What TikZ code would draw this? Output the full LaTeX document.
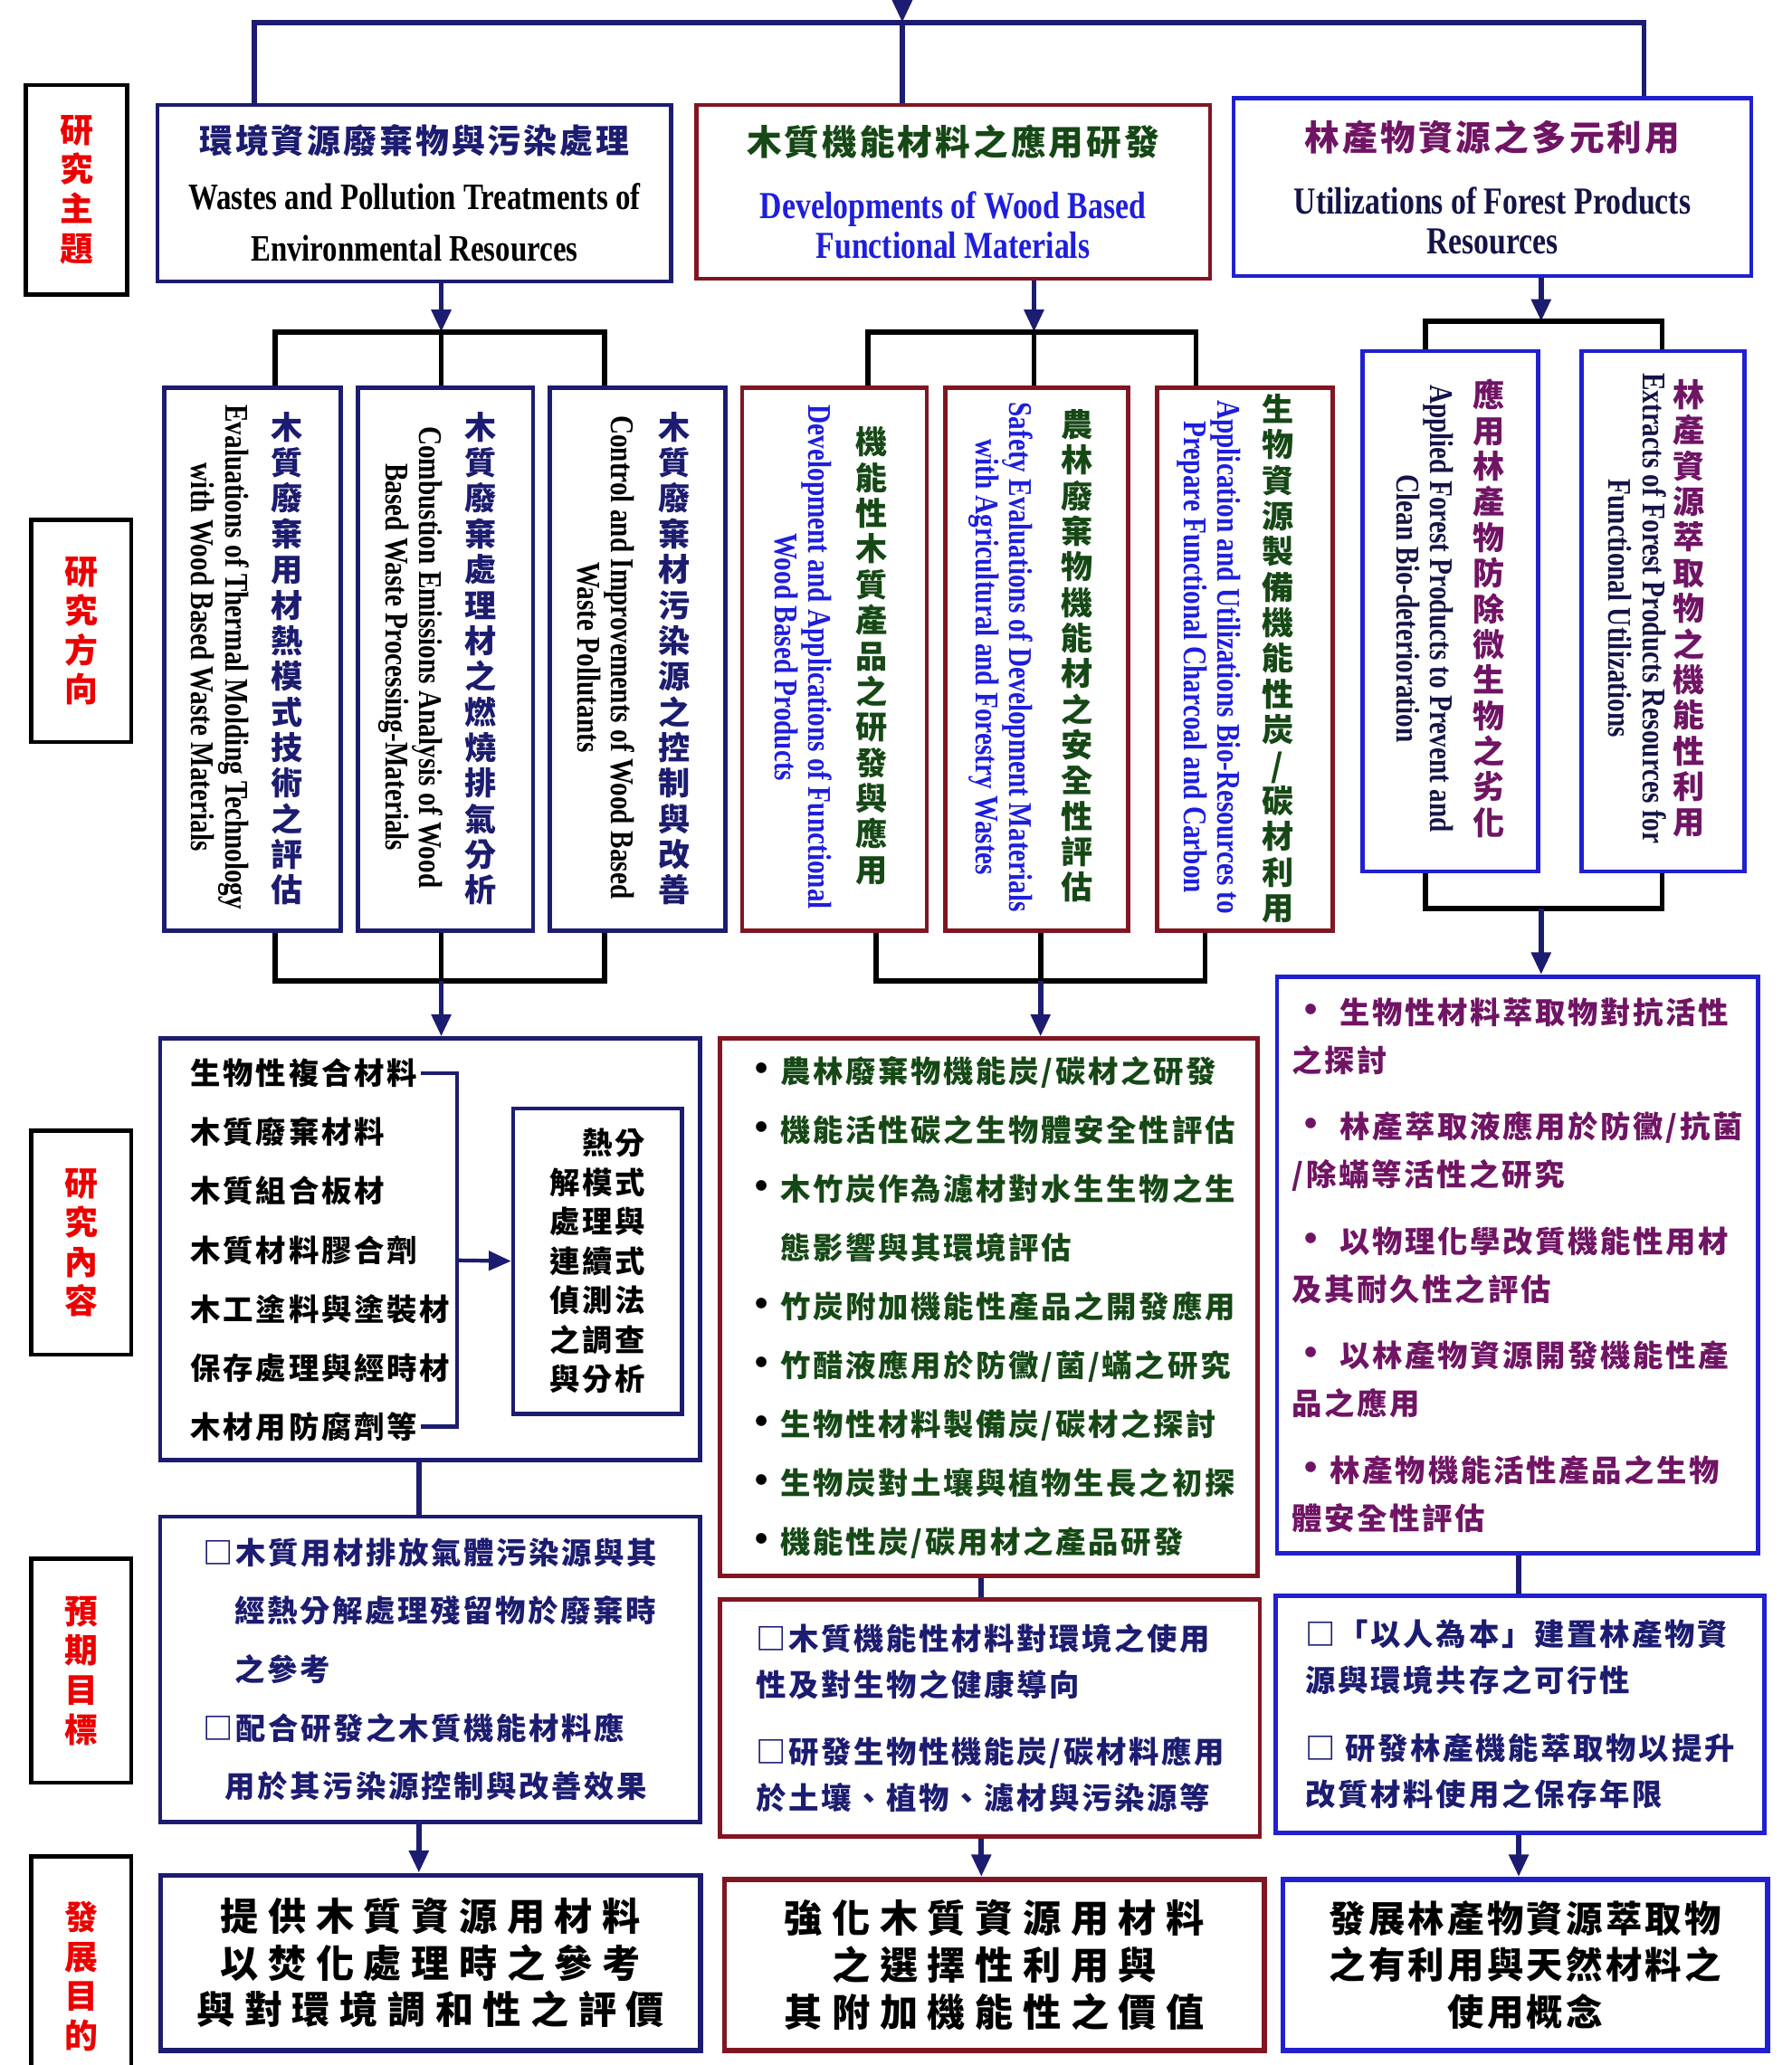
\documentclass[tikz,border=0pt]{standalone}
\usepackage{fontspec}
\setmainfont{Noto Sans CJK TC}[LetterSpace=8]
\newfontfamily\cjkw{Noto Sans CJK TC}[LetterSpace=25]
\newfontfamily\en{Liberation Serif}[FakeStretch=0.8]
\usetikzlibrary{arrows.meta}
\definecolor{navyc}{RGB}{28,28,112}
\definecolor{maroonc}{RGB}{128,22,34}
\definecolor{bluec}{RGB}{32,32,208}
\definecolor{greent}{RGB}{22,72,22}
\definecolor{bluet}{RGB}{30,30,220}
\definecolor{purplet}{RGB}{112,20,100}
\definecolor{navyt}{RGB}{20,20,72}
\definecolor{redt}{RGB}{236,0,0}
\newdimen\pu \pu=0.014559cm
\newcommand\fs[2]{\fontsize{#1}{#2}\selectfont}
\newcommand\enb{\en\bfseries}
\newcommand\bul{\makebox[12pt][l]{\color{black}\fs{12}{12}•}}
\newcommand\pbul{{\fs{12}{12}•}}
\long\def\vfirst#1#2{#1}
\long\def\vsecond#1#2{#2}
\def\vchars#1{\vchstep#1\relax}
\def\vchstep#1#2{\ifx\relax#2\expandafter\vfirst\else\expandafter\vsecond\fi{#1}{#1\\\vchstep#2}}
\begin{document}
\begin{tikzpicture}[
 x=0.014559cm, y=-0.014559cm,
 lab/.style={draw=black,line width=1.3pt,anchor=north west,inner sep=0pt,align=center,text=redt,font=\fs{10.5}{12.4}\bfseries},
 topbox/.style={line width=1.3pt,anchor=north west,inner sep=0pt,align=center},
 vbox/.style={line width=1.3pt,anchor=north west,inner sep=0pt},
 vzh/.style={align=center,inner sep=0pt,font=\fs{10}{11.2}\bfseries},
 ven/.style={align=center,inner sep=0pt,rotate=-90,font=\enb\fs{10.4}{10.6}},
 listbox/.style={line width=1.3pt,anchor=north west,inner sep=0pt,align=left},
 endbox/.style={line width=1.6pt,anchor=north west,inner sep=0pt,align=center,font=\cjkw\fs{12}{14.7}\bfseries},
 bar/.style={draw=navyc,line width=1.6pt},
 brk/.style={draw=black,line width=1.6pt},
 arr/.style={bar,-{Triangle[length=7pt,width=6pt]}}
]
\useasboundingbox (0,0) rectangle (1360,1568);
\fill[white] (0,0) rectangle (1360,1568);

\node (lab1) [lab,minimum width=77\pu,minimum height=159\pu] at (18,63) {\vchars{研究主題}};
\node (lab2) [lab,minimum width=76\pu,minimum height=169\pu] at (22,393) {\vchars{研究方向}};
\node (lab3) [lab,minimum width=76\pu,minimum height=170\pu] at (22,857) {\vchars{研究內容}};
\node (lab4) [lab,minimum width=76\pu,minimum height=170\pu] at (22,1182) {\vchars{預期目標}};
\node (lab5) [lab,minimum width=76\pu,minimum height=182\pu] at (22,1408) {\vchars{發展目的}};

\node (tL) [topbox,draw=navyc,minimum width=390\pu,minimum height=134\pu,font=\fs{11.7}{16.2}] at (118,78)
 {{\color{navyc}\fs{10.5}{13}\bfseries 環境資源廢棄物與污染處理}\\[1.6pt]{\enb Wastes and Pollution Treatments of}\\{\enb Environmental Resources}};
\node (tM) [topbox,draw=maroonc,minimum width=390\pu,minimum height=132\pu,font=\fs{12}{12.4}] at (527,78)
 {{\color{greent}\fs{11}{13}\bfseries 木質機能材料之應用研發}\\[7.6pt]{\enb\color{bluet}Developments of Wood Based}\\{\enb\color{bluet}Functional Materials}};
\node (tR) [topbox,draw=bluec,minimum width=393\pu,minimum height=135\pu,font=\fs{12}{12.4}] at (935,73)
 {{\color{purplet}\fs{11}{13}\bfseries 林產物資源之多元利用}\\[7.6pt]{\enb\color{navyt}Utilizations of Forest Products}\\{\enb\color{navyt}Resources}};

\node (L1) [vbox,draw=navyc,minimum width=134\pu,minimum height=412\pu] at (123,293) {};
\node (L2) [vbox,draw=navyc,minimum width=133\pu,minimum height=412\pu] at (270,293) {};
\node (L3) [vbox,draw=navyc,minimum width=133\pu,minimum height=412\pu] at (416,293) {};
\node (M1) [vbox,draw=maroonc,minimum width=140\pu,minimum height=412\pu] at (562,293) {};
\node (M2) [vbox,draw=maroonc,minimum width=139\pu,minimum height=412\pu] at (716,293) {};
\node (M3) [vbox,draw=maroonc,minimum width=133\pu,minimum height=412\pu] at (877,293) {};
\node (R1) [vbox,draw=bluec,minimum width=133\pu,minimum height=395\pu] at (1033,265) {};
\node (R2) [vbox,draw=bluec,minimum width=124\pu,minimum height=395\pu] at (1199,265) {};

\node (L1z) [vzh,text=navyc] at (218,500) {\vchars{木質廢棄用材熱模式技術之評估}};
\node (L1e) [ven] at (167,499) {Evaluations of Thermal Molding Technology\\with Wood Based Waste Materials};
\node (L2z) [vzh,text=navyc] at (365,500) {\vchars{木質廢棄處理材之燃燒排氣分析}};
\node (L2e) [ven] at (312,499) {Combustion Emissions Analysis of Wood\\Based Waste Processing-Materials};
\node (L3z) [vzh,text=navyc] at (512,500) {\vchars{木質廢棄材污染源之控制與改善}};
\node (L3e) [ven] at (460,499) {Control and Improvements of Wood Based\\Waste Pollutants};
\node (M1z) [vzh,text=greent] at (662,498) {\vchars{機能性木質產品之研發與應用}};
\node (M1e) [ven,text=bluet] at (610,499) {Development and Applications of Functional\\Wood Based Products};
\node (M2z) [vzh,text=greent] at (818,498) {\vchars{農林廢棄物機能材之安全性評估}};
\node (M2e) [ven,text=bluet] at (760,499) {Safety Evaluations of Development Materials\\with Agricultural and Forestry Wastes};
\node (M3z) [vzh,text=greent] at (970,500) {\vchars{生物資源製備機能性炭/碳材利用}};
\node (M3e) [ven,text=bluet] at (918,499) {Application and Utilizations Bio-Resources to\\Prepare Functional Charcoal and Carbon};
\node (R1z) [vzh,text=purplet] at (1130,462) {\vchars{應用林產物防除微生物之劣化}};
\node (R1e) [ven,text=navyt] at (1082,462) {Applied Forest Products to Prevent and\\Clean Bio-deterioration};
\node (R2z) [vzh,text=purplet] at (1282,462) {\vchars{林產資源萃取物之機能性利用}};
\node (R2e) [ven,text=navyt] at (1243,462) {Extracts of Forest Products Resources for\\Functional Utilizations};

\node (cL) [listbox,draw=navyc,minimum width=410\pu,minimum height=320\pu] at (120,787) {};
\foreach \txt [count=\i] in {生物性複合材料,木質廢棄材料,木質組合板材,木質材料膠合劑,木工塗料與塗裝材,保存處理與經時材,木材用防腐劑等}
  \node (it\i) [anchor=west,inner sep=1pt,font=\fs{9.5}{11}\bfseries] at (142,{770.3+44.7*\i}) {\txt};
\node (inner) [draw=navyc,line width=1.3pt,anchor=north west,minimum width=128\pu,minimum height=232\pu,align=right,inner sep=0pt,font=\fs{9.5}{12.4}\bfseries] at (388,840)
 {熱分\\解模式\\處理與\\連續式\\偵測法\\之調查\\與分析};

\node (cM) [listbox,draw=maroonc,text=greent,minimum width=408\pu,minimum height=408\pu,font=\fs{9.5}{18.5}\bfseries] at (545,787)
 {\bul 農林廢棄物機能炭/碳材之研發\\\bul 機能活性碳之生物體安全性評估\\\bul 木竹炭作為濾材對水生生物之生\\\hspace*{12pt}態影響與其環境評估\\\bul 竹炭附加機能性產品之開發應用\\\bul 竹醋液應用於防黴/菌/蟎之研究\\\bul 生物性材料製備炭/碳材之探討\\\bul 生物炭對土壤與植物生長之初探\\\bul 機能性炭/碳用材之產品研發};
\node (cR) [listbox,draw=bluec,text=purplet,minimum width=365\pu,minimum height=438\pu,font=\fs{9.5}{15}\bfseries] at (968,740)
 {\pbul\ 生物性材料萃取物對抗活性\\之探討\\[6pt]\pbul\ 林產萃取液應用於防黴/抗菌\\/除蟎等活性之研究\\[6pt]\pbul\ 以物理化學改質機能性用材\\及其耐久性之評估\\[6pt]\pbul\ 以林產物資源開發機能性產\\品之應用\\[6pt]\pbul 林產物機能活性產品之生物\\體安全性評估};

\node (gL) [listbox,draw=navyc,text=navyc,minimum width=410\pu,minimum height=232\pu,font=\fs{9.5}{18.4}\bfseries] at (120,1150)
 {□木質用材排放氣體污染源與其\\\hspace*{10pt}經熱分解處理殘留物於廢棄時\\\hspace*{10pt}之參考\\□配合研發之木質機能材料應\\\hspace*{7pt}用於其污染源控制與改善效果};
\node (gM) [listbox,draw=maroonc,text=navyc,minimum width=410\pu,minimum height=180\pu,font=\fs{9.5}{14.6}\bfseries] at (545,1213)
 {□木質機能性材料對環境之使用\\性及對生物之健康導向\\[6.5pt]□研發生物性機能炭/碳材料應用\\於土壤、植物、濾材與污染源等};
\node (gR) [listbox,draw=bluec,text=navyc,minimum width=371\pu,minimum height=180\pu,font=\fs{9.5}{14.6}\bfseries] at (967,1210)
 {□「以人為本」建置林產物資\\源與環境共存之可行性\\[6.5pt]□ 研發林產機能萃取物以提升\\改質材料使用之保存年限};

\node (pL) [endbox,draw=navyc,minimum width=410\pu,minimum height=133\pu] at (120,1422)
 {提供木質資源用材料\\以焚化處理時之參考\\與對環境調和性之評價};
\node (pM) [endbox,draw=maroonc,minimum width=410\pu,minimum height=130\pu] at (548,1425)
 {強化木質資源用材料\\之選擇性利用與\\其附加機能性之價值};
\node (pR) [endbox,draw=bluec,minimum width=368\pu,minimum height=130\pu,font=\fs{11.5}{14.7}\bfseries] at (972,1425)
 {發展林產物資源萃取物\\之有利用與天然材料之\\使用概念};

\coordinate (feed) at (685,-20);
\coordinate (barM) at (685,17);
\draw[arr] (feed) -- (barM);
\draw[bar] (tL.north -| 193,0) |- (barM) -| (tR.north -| 1248,0);
\draw[bar] (barM) -- (tM.north -| barM);

\coordinate (hubL) at (335,252);
\coordinate (hubM) at (785,252);
\coordinate (hubR) at (1170,244);
\draw[arr] (tL.south -| hubL) -- (hubL);
\draw[arr] (tM.south -| hubM) -- (hubM);
\draw[arr] (tR.south -| hubR) -- (hubR);
\draw[brk] (L1.north -| 209,0) |- (hubL) -| (L3.north -| 459,0);
\draw[brk] (hubL) -- (L2.north -| hubL);
\draw[brk] (M1.north -| 659,0) |- (hubM) -| (M3.north -| 908,0);
\draw[brk] (hubM) -- (M2.north -| hubM);
\draw[brk] (R1.north -| 1082,0) |- (hubR) -| (R2.north -| 1262,0);

\coordinate (hubL2) at (335,745);
\coordinate (hubM2) at (790,745);
\coordinate (hubR2) at (1170,690);
\draw[brk] (L1.south -| 209,0) |- (hubL2) -| (L3.south -| 459,0);
\draw[brk] (L2.south -| hubL2) -- (hubL2);
\draw[brk] (M1.south -| 665,0) |- (hubM2) -| (M3.south -| 915,0);
\draw[brk] (M2.south -| hubM2) -- (hubM2);
\draw[brk] (R1.south -| 1082,0) |- (hubR2) -| (R2.south -| 1262,0);
\draw[arr] (hubL2) -- (cL.north -| hubL2);
\draw[arr] (hubM2) -- (cM.north -| hubM2);
\draw[arr] (hubR2) -- (cR.north -| hubR2);

\coordinate (brk) at (347,957);
\draw[bar,line width=1.2pt] (it1.east) -| (brk) |- (it7.east);
\draw[arr,line width=1.2pt] (brk) -- (inner.west);

\coordinate (xL) at (318,0);
\coordinate (xM) at (745,0);
\coordinate (xR) at (1153,0);
\draw[bar] (cL.south -| xL) -- (gL.north -| xL);
\draw[bar] (cM.south -| xM) -- (gM.north -| xM);
\draw[bar] (cR.south -| xR) -- (gR.north -| xR);
\draw[arr] (gL.south -| xL) -- (pL.north -| xL);
\draw[arr] (gM.south -| xM) -- (pM.north -| xM);
\draw[arr] (gR.south -| xR) -- (pR.north -| xR);
\end{tikzpicture}
\end{document}
